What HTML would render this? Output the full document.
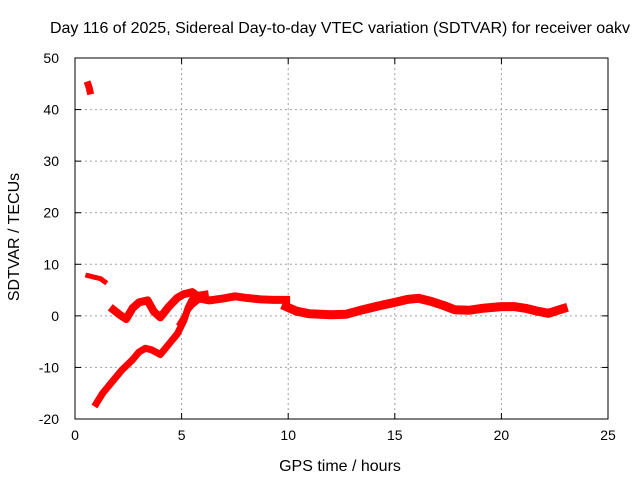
<!DOCTYPE html>
<html><head><meta charset="utf-8"><style>
body{margin:0;background:#fff;}
svg text{font-family:"Liberation Sans",sans-serif;font-size:14px;fill:#000;}
svg text.big{font-size:16px;}
</style></head><body>
<svg width="640" height="480">
<g id="grid"></g>
<g id="axes"></g>
<g id="series"></g>
<text class="big" x="340" y="33" text-anchor="middle">Day 116 of 2025, Sidereal Day-to-day VTEC variation (SDTVAR) for receiver oakv</text>
<text class="big" x="340" y="471" text-anchor="middle">GPS time / hours</text>
<text class="big" transform="translate(19,237) rotate(-90)" text-anchor="middle">SDTVAR / TECUs</text>
</svg>
<script>
const xTicks=[0,5,10,15,20,25];
const yTicks=[-20,-10,0,10,20,30,40,50];
const segA_x=[0.62,0.66,0.7];
const segA_y=[44.8,44.3,43.6];
const segB_x=[0.6,0.9,1.2,1.4];
const segB_y=[7.8,7.5,7.2,6.6];
const segC_x=[1.8,2.1,2.4,2.7,3.0,3.4,3.7,4.0,4.4,4.8,5.1,5.5,5.9,6.3,7.0,7.5,8.0,8.7,9.3,9.9];
const segC_y=[1.2,0.2,-0.6,1.5,2.6,3.0,0.8,-0.3,1.8,3.5,4.2,4.6,3.3,3.0,3.4,3.8,3.5,3.2,3.1,3.1];
const segE_x=[9.9,10.4,11.0,12.0,12.7,13.5,14.2,15.0,15.6,16.1,16.7,17.3,17.8,18.5,19.2,20.0,20.6,21.2,21.7,22.2,22.9];
const segE_y=[1.8,0.9,0.4,0.2,0.3,1.2,1.9,2.6,3.2,3.4,2.8,2.0,1.2,1.1,1.5,1.8,1.8,1.4,0.9,0.5,1.4];
const segD_x=[1.0,1.3,1.7,2.2,2.7,3.0,3.3,3.6,4.0,4.4,4.8,5.1,5.3,5.5,5.8,6.1];
const segD_y=[-17,-15,-13,-10.5,-8.5,-7,-6.3,-6.6,-7.5,-5.5,-3.5,-1.0,1.5,3.2,4.0,4.2];
const segF_x=[4.9,5.2,5.5,5.8,6.0];
const segF_y=[-1.5,0.5,2.0,3.0,3.8];
const X0=75,X1=608,Y0=419,Y1=58;
const sx=v=>X0+(v-0)/(25-0)*(X1-X0);
const sy=v=>Y0-(v+20)/(70)*(Y0-Y1);
const NS="http://www.w3.org/2000/svg";
function mk(t,a,p){const e=document.createElementNS(NS,t);for(const k in a)e.setAttribute(k,a[k]);p.appendChild(e);return e;}
const grid=document.getElementById('grid'),axes=document.getElementById('axes'),ser=document.getElementById('series');
xTicks.forEach(t=>{const x=sx(t);
 if(t>0&&t<25){const l=mk('line',{x1:x,x2:x,y1:Y1,y2:Y0,stroke:'#a0a0a0','stroke-dasharray':'2,3'},grid);
 }
 mk('line',{x1:x,x2:x,y1:Y0,y2:Y0-6,stroke:'#000'},axes);mk('line',{x1:x,x2:x,y1:Y1,y2:Y1+6,stroke:'#000'},axes);
 const tx=mk('text',{x:x,y:Y0+21,'text-anchor':'middle'},axes);tx.textContent=t;
 });
yTicks.forEach(t=>{const y=sy(t);
 if(t>-20&&t<50){const l=mk('line',{x1:X0,x2:X1,y1:y,y2:y,stroke:'#a0a0a0','stroke-dasharray':'2,3'},grid);
 }
 mk('line',{x1:X0,x2:X0+6,y1:y,y2:y,stroke:'#000'},axes);mk('line',{x1:X1,x2:X1-6,y1:y,y2:y,stroke:'#000'},axes);
 const tx=mk('text',{x:X0-16,y:y+5,'text-anchor':'end'},axes);tx.textContent=t;
 });
const fr=mk('rect',{x:X0,y:Y1,width:X1-X0,height:Y0-Y1,fill:'none',stroke:'#000'},axes);

[[segA_x,segA_y,7],[segB_x,segB_y,5],[segC_x,segC_y,8],[segE_x,segE_y,9],[segD_x,segD_y,7],[segF_x,segF_y,5]].forEach(([xs,ys,w])=>{
 const pts=xs.map((v,i)=>sx(v).toFixed(1)+','+sy(ys[i]).toFixed(1)).join(' ');
 const p=mk('polyline',{points:pts,fill:'none',stroke:'#ff0000','stroke-width':w,'stroke-linejoin':'round','stroke-linecap':'square'},ser);
 
 });
</script>
</body></html>
